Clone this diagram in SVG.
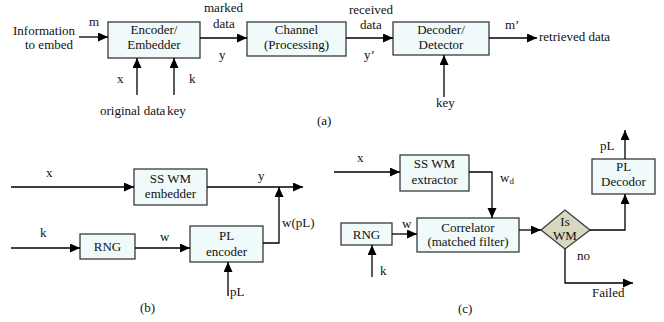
<svg xmlns="http://www.w3.org/2000/svg" width="664" height="322" viewBox="0 0 664 322" font-family="'Liberation Serif', 'Times New Roman', 'DejaVu Serif', serif" font-size="13">
  <defs>
    <marker id="arr" markerUnits="userSpaceOnUse" markerWidth="11" markerHeight="10" refX="10" refY="4.5" orient="auto">
      <path d="M0,0 L10,4.5 L0,9 Z" fill="#000"/>
    </marker>
  </defs>
  <style>
    text { font-family: 'Liberation Serif', 'Times New Roman', 'DejaVu Serif', serif; font-size: 13px; fill: #111; }
    .c { text-anchor: middle; }
    .box { fill: #f0fafa; stroke: #3a3a3a; stroke-width: 1.3; }
    .dia { fill: #d8d8c2; stroke: #3a3a3a; stroke-width: 1.3; }
    .ln { fill: none; stroke: #000; stroke-width: 1.3; }
    .arr { marker-end: url(#arr); }
  </style>
  <rect width="664" height="322" fill="#fff"/>

  <!-- (a) generic watermarking chain -->
  <g id="encoder">
    <rect class="box" x="108" y="22" width="92" height="36"/>
    <text class="c" x="154" y="34">Encoder/</text>
    <text class="c" x="154" y="49">Embedder</text>
  </g>
  <g id="channel">
    <rect class="box" x="247" y="22" width="99" height="34"/>
    <text class="c" x="296.5" y="34">Channel</text>
    <text class="c" x="296.5" y="49">(Processing)</text>
  </g>
  <g id="decoder">
    <rect class="box" x="393" y="22" width="96" height="33"/>
    <text class="c" x="441" y="34">Decoder/</text>
    <text class="c" x="441" y="49">Detector</text>
  </g>

  <!-- (b) spread-spectrum embedder -->
  <g id="ss-embedder">
    <rect class="box" x="134" y="169" width="73" height="36"/>
    <text class="c" x="170.5" y="183">SS WM</text>
    <text class="c" x="170.5" y="198">embedder</text>
  </g>
  <g id="rng-b">
    <rect class="box" x="80" y="234" width="55" height="25"/>
    <text class="c" x="107.5" y="251">RNG</text>
  </g>
  <g id="pl-encoder">
    <rect class="box" x="190" y="226" width="73" height="36"/>
    <text class="c" x="226.5" y="240">PL</text>
    <text class="c" x="226.5" y="256">encoder</text>
  </g>

  <!-- (c) spread-spectrum detector -->
  <g id="ss-extractor">
    <rect class="box" x="400" y="155" width="69" height="36"/>
    <text class="c" x="434.5" y="168">SS WM</text>
    <text class="c" x="434.5" y="184">extractor</text>
  </g>
  <g id="rng-c">
    <rect class="box" x="341" y="223" width="51" height="22"/>
    <text class="c" x="366.5" y="239">RNG</text>
  </g>
  <g id="correlator">
    <rect class="box" x="417" y="218" width="102" height="34"/>
    <text class="c" x="468" y="232">Correlator</text>
    <text class="c" x="468" y="246">(matched filter)</text>
  </g>
  <g id="is-wm">
    <polygon class="dia" points="541,230 565,210 590,230 565,249"/>
    <text class="c" x="565" y="226">Is</text>
    <text class="c" x="565" y="240">WM</text>
  </g>
  <g id="pl-decoder">
    <rect class="box" x="592" y="159" width="63" height="35"/>
    <text class="c" x="623.5" y="171">PL</text>
    <text class="c" x="623.5" y="186">Decodor</text>
  </g>

  <g id="connectors">
    <!-- (a) -->
    <line class="ln arr" x1="79" y1="37" x2="108" y2="37"/>
    <line class="ln arr" x1="200" y1="38" x2="247" y2="38"/>
    <line class="ln arr" x1="346" y1="38" x2="393" y2="38"/>
    <line class="ln arr" x1="489" y1="38" x2="537" y2="38"/>
    <line class="ln arr" x1="137" y1="95" x2="137" y2="58"/>
    <line class="ln arr" x1="174" y1="95" x2="174" y2="58"/>
    <line class="ln arr" x1="444" y1="97" x2="444" y2="55"/>
    <!-- (b) -->
    <line class="ln arr" x1="11" y1="187" x2="134" y2="187"/>
    <line class="ln arr" x1="207" y1="187" x2="303" y2="187"/>
    <polyline class="ln arr" points="263,243 279,243 279,187"/>
    <line class="ln arr" x1="11" y1="248" x2="80" y2="248"/>
    <line class="ln arr" x1="135" y1="248" x2="190" y2="248"/>
    <line class="ln arr" x1="228" y1="296" x2="228" y2="262"/>
    <!-- (c) -->
    <line class="ln arr" x1="334" y1="172" x2="400" y2="172"/>
    <polyline class="ln arr" points="469,172 492,172 492,218"/>
    <line class="ln arr" x1="392" y1="234" x2="417" y2="234"/>
    <line class="ln arr" x1="372" y1="277" x2="372" y2="245"/>
    <line class="ln arr" x1="519" y1="230" x2="541" y2="230"/>
    <polyline class="ln arr" points="590,230 625,230 625,194"/>
    <line class="ln arr" x1="625" y1="159" x2="625" y2="130"/>
    <polyline class="ln arr" points="565,249 565,283 633,283"/>
  </g>

  <g id="labels">
    <!-- (a) -->
    <text x="13" y="35">Information</text>
    <text x="25" y="49">to embed</text>
    <text x="89" y="26">m</text>
    <text x="204" y="12">marked</text>
    <text x="213" y="28">data</text>
    <text x="219" y="59">y</text>
    <text x="117" y="83">x</text>
    <text x="189" y="83">k</text>
    <text x="100" y="115">original data</text>
    <text x="167" y="115">key</text>
    <text x="317" y="125">(a)</text>
    <text x="349" y="14">received</text>
    <text x="360" y="29">data</text>
    <text x="364" y="59">y’</text>
    <text x="505" y="29">m’</text>
    <text x="539" y="41">retrieved data</text>
    <text x="436" y="107">key</text>
    <!-- (b) -->
    <text x="46" y="177">x</text>
    <text x="258" y="180">y</text>
    <text x="40" y="237">k</text>
    <text x="160" y="241">w</text>
    <text x="282" y="227">w(pL)</text>
    <text x="230" y="296">pL</text>
    <text x="140" y="312">(b)</text>
    <!-- (c) -->
    <text x="357" y="162">x</text>
    <text x="500" y="182">w<tspan font-size="9" dy="2">d</tspan></text>
    <text x="402" y="228">w</text>
    <text x="380" y="275">k</text>
    <text x="577" y="260">no</text>
    <text x="600" y="150">pL</text>
    <text x="592" y="297">Failed</text>
    <text x="458" y="313">(c)</text>
  </g>
</svg>
